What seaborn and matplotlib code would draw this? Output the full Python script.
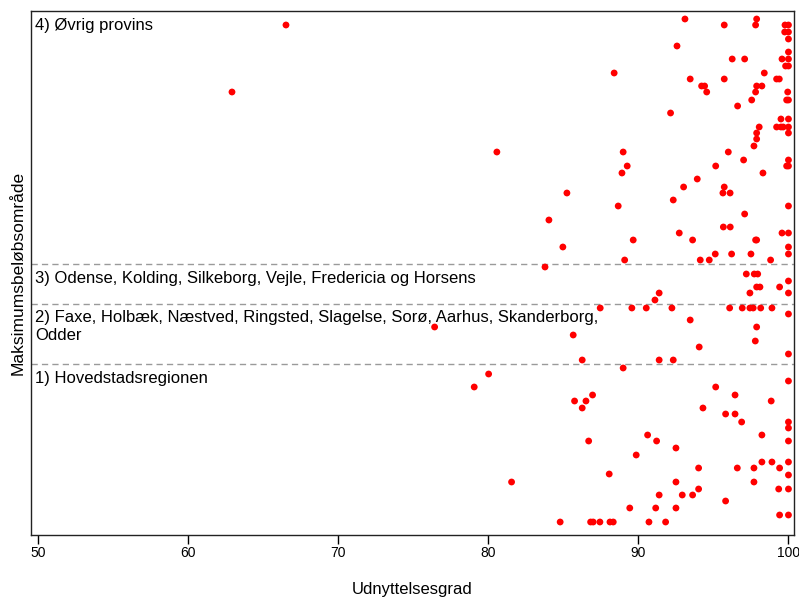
import numpy as np
import pandas as pd
import seaborn as sns
import matplotlib.pyplot as plt

sns.set_style("white")
plt.rcParams["font.family"] = ["Liberation Sans", "DejaVu Sans"]
plt.rcParams["text.color"] = "black"
plt.rcParams["axes.labelcolor"] = "black"
plt.rcParams["xtick.color"] = "black"

# group names (top to bottom)
groups = [
    "4) Øvrig provins",
    "3) Odense, Kolding, Silkeborg, Vejle, Fredericia og Horsens",
    "2) Faxe, Holbæk, Næstved, Ringsted, Slagelse, Sorø, Aarhus, Skanderborg,\nOdder",
    "1) Hovedstadsregionen",
]

# band boundaries on the (unlabelled) vertical axis
bounds = [524, 271, 231.5, 171, 0]

# 4) Øvrig provins
x_g4 = [93.10, 95.72, 97.88, 97.81, 99.77, 100, 99.75, 100, 100, 92.57,
        100, 96.25, 97.08, 99.57, 100, 99.81, 100, 88.38, 98.39, 93.45,
        95.72, 99.21, 99.39, 94.21, 94.41, 97.88, 98.23, 94.55, 97.81, 99.95,
        97.55, 99.88, 100, 96.61, 92.14, 99.50, 100, 98.05, 99.21, 99.50,
        99.65, 100, 97.88, 100, 97.88, 97.70, 88.98, 95.99, 97.01, 100,
        89.25, 95.15, 99.88, 100, 88.90, 98.30, 93.92, 93.01, 95.72, 95.63,
        96.11, 92.32, 88.65, 100, 97.08, 95.66, 96.12, 92.72, 99.57, 100,
        89.65, 93.61, 97.81, 97.88, 100, 95.12, 96.21, 97.50, 100, 89.08,
        94.12, 94.72, 98.81, 66.50, 62.90, 80.56, 85.23, 84.03, 84.96]
y_g4 = [516, 510, 516, 510, 510, 510, 503, 503, 496, 489,
        483, 476, 476, 476, 476, 469, 469, 462, 462, 456,
        456, 456, 456, 449, 449, 449, 449, 443, 443, 443,
        435, 435, 435, 429, 422, 416, 416, 408, 408, 408,
        408, 408, 402, 402, 396, 389, 383, 383, 375, 375,
        369, 369, 369, 369, 362, 362, 356, 348, 348, 342,
        342, 335, 329, 329, 321, 308, 308, 302, 302, 302,
        295, 295, 295, 295, 288, 281, 281, 281, 281, 275,
        275, 275, 275, 510, 443, 383, 342, 315, 288]

# 3) Odense, Kolding, ...
x_g3 = [83.77, 97.19, 97.72, 97.95, 100, 97.88, 98.10, 99.41, 91.38, 97.43,
        100, 91.10]
y_g3 = [268, 261, 261, 261, 254, 248, 248, 248, 242, 242,
        242, 235]

# 2) Faxe, Holbæk, ...
x_g2 = [87.45, 89.56, 90.52, 92.23, 96.08, 96.92, 97.43, 97.65, 98.15, 98.90,
        100, 76.41, 93.45, 97.88, 85.65, 97.79, 94.05, 100, 86.25, 91.38,
        92.32]
y_g2 = [227, 227, 227, 227, 227, 227, 227, 227, 227, 227,
        221, 208, 215, 208, 200, 194, 188, 181, 175, 175,
        175]

# 1) Hovedstadsregionen
x_g1 = [88.98, 80.01, 79.05, 100, 95.15, 96.44, 86.94, 86.50, 85.74, 86.25,
        94.30, 98.85, 95.81, 96.44, 96.88, 100, 100, 98.23, 90.61, 91.21,
        86.68, 100, 92.50, 89.85, 98.23, 98.90, 100, 88.05, 94.01, 96.59,
        97.70, 99.41, 100, 81.54, 92.50, 97.70, 99.35, 100, 94.01, 91.38,
        92.92, 93.61, 95.81, 89.42, 91.15, 92.50, 99.41, 100, 84.78, 86.81,
        86.98, 87.43, 88.10, 88.32, 90.70, 91.81]
y_g1 = [167, 161, 148, 154, 148, 140, 140, 134, 134, 127,
        127, 134, 121, 121, 113, 113, 107, 100, 100, 94,
        94, 94, 87, 80, 73, 73, 73, 61, 67, 67,
        67, 67, 60, 53, 53, 53, 46, 46, 46, 40,
        40, 40, 34, 27, 27, 27, 20, 20, 13, 13,
        13, 13, 13, 13, 13, 13]

xticks = [50, 60, 70, 80, 90, 100]

frames = []
for name, xs, ys in zip(groups, [x_g4, x_g3, x_g2, x_g1], [y_g4, y_g3, y_g2, y_g1]):
    frames.append(pd.DataFrame({"Udnyttelsesgrad": xs, "pos": ys, "omr": name}))
df = pd.concat(frames, ignore_index=True)

fig = plt.figure(figsize=(7.99, 5.99), dpi=100)
ax = fig.add_axes([31 / 799, 64 / 599, 763 / 799, 524 / 599])

sns.scatterplot(data=df, x="Udnyttelsesgrad", y="pos", color="#ff0000",
                s=24, edgecolor="none", linewidth=0, ax=ax, legend=False)

# dashed separators between the areas
for b in bounds[1:-1]:
    ax.axhline(b, color="#9a9a9a", lw=1, ls=(0, (4.5, 3)), zorder=0)

# area labels
for name, top in zip(groups, bounds[:-1]):
    ax.annotate(name, xy=(0, top), xycoords=("axes fraction", "data"),
                xytext=(3, -5), textcoords="offset points",
                ha="left", va="top", fontsize=12, linespacing=1.25)

ax.set_xlim(49.5, 100.37)
ax.set_ylim(0, 524)
ax.set_xticks(xticks)
ax.set_xticklabels([str(t) for t in xticks], fontsize=10)
ax.set_yticks([])
ax.tick_params(axis="x", direction="out", length=6.5, width=1, color="black",
               pad=1.5, bottom=True)
for sp in ax.spines.values():
    sp.set_color("#222222")
    sp.set_linewidth(1)

ax.set_xlabel("Udnyttelsesgrad", fontsize=12, labelpad=16)
ax.set_ylabel("Maksimumsbeløbsområde", fontsize=12.5, labelpad=4)

fig.savefig("out.png", dpi=100)
